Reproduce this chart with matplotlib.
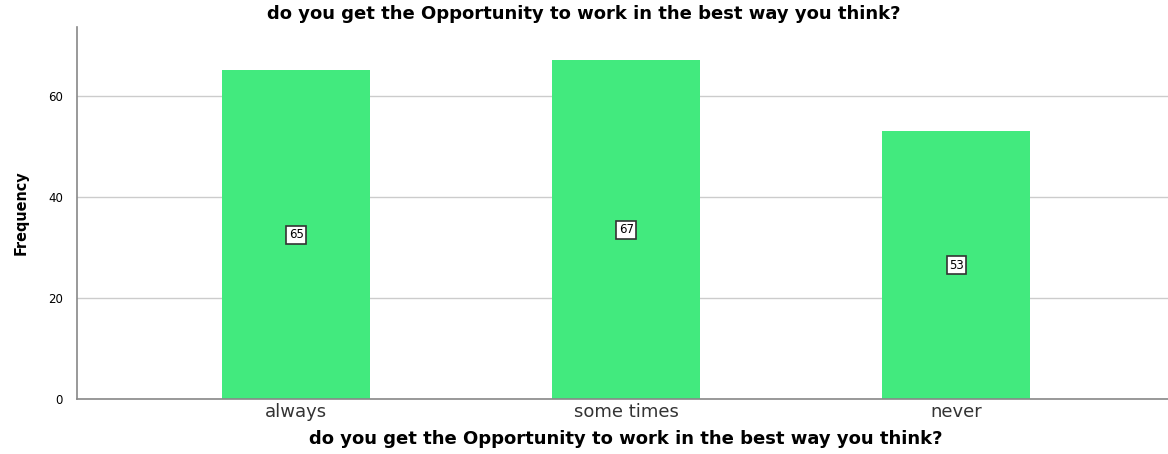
import matplotlib.pyplot as plt

categories = ['always', 'some times', 'never']
counts = [65, 67, 53]
question = 'do you get the Opportunity to work in the best way you think?'

plt.rcParams['font.family'] = ['DejaVu Sans']

fig = plt.figure(figsize=(11.68, 4.54), dpi=100)
ax = fig.add_axes([0.0659, 0.1211, 0.9405, 0.8194])

x = range(len(categories))
ax.bar(x, counts, width=0.448, color='#42EA7E', zorder=2)

for i, v in zip(x, counts):
    ax.text(i, v / 2, str(v), ha='center', va='center', fontsize=8.5,
            bbox=dict(boxstyle='square,pad=0.2', fc='white', ec='#333333', lw=1.2),
            zorder=3)

ax.set_xlim(-0.664, 2.664)
ax.set_ylim(0, 73.6)
ax.set_yticks([0, 20, 40, 60])
ax.set_xticks(list(x))
ax.set_xticklabels(categories, fontsize=13, color='#333333')
ax.tick_params(axis='y', labelsize=8.5, length=0, pad=10)
ax.tick_params(axis='x', length=0, pad=3)
ax.grid(axis='y', color='#cccccc', lw=1, zorder=0)

for s in ['top', 'right']:
    ax.spines[s].set_visible(False)
for s in ['left', 'bottom']:
    ax.spines[s].set_color('#888888')
    ax.spines[s].set_linewidth(1.2)

ax.set_xlabel(question, fontsize=13, fontweight='bold', labelpad=6)
ax.set_ylabel('Frequency', fontsize=11.5, stretch='condensed', fontweight='bold',
              labelpad=14)
fig.text(0.5, 0.97, question, ha='center', va='center', fontsize=13, fontweight='bold')

fig.savefig('out.png')
